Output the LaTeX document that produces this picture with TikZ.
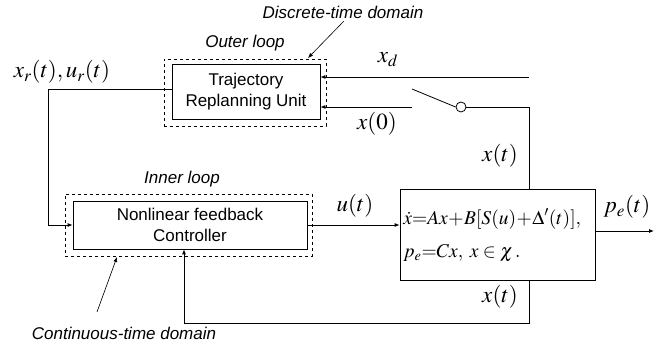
\documentclass[tikz,border=0pt]{standalone}
\usepackage{mathptmx}
\usepackage{fontspec}
\setmainfont{Liberation Sans}
\usetikzlibrary{arrows.meta}

\begin{document}
\begin{tikzpicture}
    [x=1pt,y=-1pt,line width=0.8pt,
     block/.style={draw,fill=white,align=center,inner sep=0pt,font=\fontsize{17}{21}\selectfont},
     area/.style={draw,dashed,line width=0.6pt,inner sep=0pt},
     caption/.style={font=\fontsize{17}{20}\selectfont\itshape},
     signal/.style={font=\fontsize{23}{26}\selectfont},
     law/.style={anchor=west,inner sep=0pt,font=\fontsize{19.5}{24}\selectfont},
     feed/.style={-{Latex[length=5pt,width=4pt]}}]

    \useasboundingbox (0,0) rectangle (654,347);

    % dashed areas and blocks
    \node[area,minimum width=162pt,minimum height=67pt] (D-outer) at (245,92.5) {};
    \node[area,minimum width=247pt,minimum height=62pt] (D-inner) at (188.5,225) {};
    \node[block,minimum width=148pt,minimum height=55pt] (traj) at (246,91.5) {Trajectory\\Replanning Unit};
    \node[block,minimum width=234pt,minimum height=48pt] (ctrl) at (190,225) {Nonlinear feedback\\Controller};
    \node[draw,minimum width=195pt,minimum height=91pt,inner sep=0pt] (plant) at (497.5,234.5) {};
    \node[law] (law-1) at (403,219) {$\dot{x}{=}Ax\!+\!B[S(u)\!+\!\Delta'(t)],$};
    \node[law] (law-2) at (403,253) {$p_e{=}Cx,\;x\in\chi\,.$};

    % captions
    \foreach \name/\x/\y/\text in {disc/343/12/Discrete-time domain, outer/245/43/Outer loop,
                                   inner/182/179/Inner loop, cont/124/333/Continuous-time domain}
      \node[caption] (C-\name) at (\x,\y) {\text};

    % signal labels
    \foreach \name/\x/\y/\text in {ref/62/72/{x_r(t),u_r(t)}, xd/388/60/x_d, x0/377/124/x(0),
                                   xt1/500/156/x(t), xt2/500/297/x(t), u/355/206/u(t), pe/627/207/p_e(t)}
      \node[signal] (L-\name) at (\x,\y) {$\text$};

    % switch
    \coordinate (xd-in) at (529,77);
    \coordinate (sw-a) at (412,107);
    \coordinate (sw-b) at (412,89);
    \node[draw,circle,minimum size=10pt,inner sep=0pt,fill=white] (sw) at (461,107) {};
    \coordinate (sw-c) at (529,107);
    \coordinate (fb-low) at (184,323);
    \coordinate (ref-up) at (48,89);
    \coordinate (out) at (654,231);

    % connectors
    \draw[feed] (xd-in) -- (xd-in -| traj.east);
    \draw[feed] (sw-a) -- (sw-a -| traj.east);
    \draw (sw-b) -- (sw.west);
    \draw (sw.east) -- (sw-c) -- (sw-c |- plant.north);
    \draw[feed] (traj.west |- ref-up) -- (ref-up) |- (ctrl.west);
    \draw[feed] (ctrl.east) -- (ctrl.east -| plant.west);
    \draw[feed] (plant.east |- out) -- (out);
    \draw[feed] (plant.south -| sw-c) |- (fb-low) -- (ctrl.south -| fb-low);

    % pointers to the areas
    \draw[feed,line width=0.6pt] (344,21) -- (308,58);
    \draw[feed,line width=0.6pt] (97,312) -- (117,257);
\end{tikzpicture}
\end{document}
